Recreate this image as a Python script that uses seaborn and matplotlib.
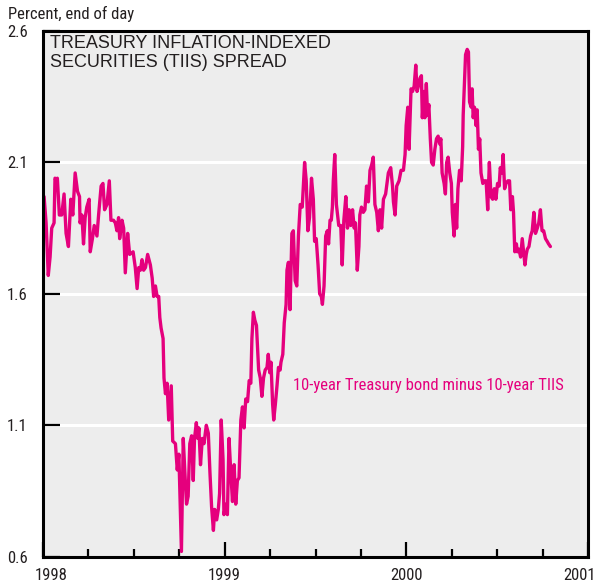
import matplotlib
matplotlib.use("Agg")
import matplotlib.pyplot as plt
from matplotlib import font_manager as fm
from matplotlib.ticker import FixedLocator
import matplotlib.transforms as mtransforms
import numpy as np
import pandas as pd
import seaborn as sns

# ---------------- data ----------------
years_1998 = [1998.006, 1998.017, 1998.029, 1998.039, 1998.048, 1998.061, 1998.066, 1998.076,
              1998.079, 1998.090, 1998.103, 1998.116, 1998.127, 1998.140, 1998.153, 1998.164,
              1998.177, 1998.190, 1998.201, 1998.204, 1998.214, 1998.223, 1998.232, 1998.241,
              1998.254, 1998.260, 1998.272, 1998.282, 1998.297, 1998.306, 1998.320, 1998.330,
              1998.339, 1998.352, 1998.365, 1998.374, 1998.388, 1998.398, 1998.407, 1998.416,
              1998.422, 1998.435, 1998.444, 1998.453, 1998.466, 1998.477, 1998.496, 1998.508,
              1998.518, 1998.527, 1998.536, 1998.545, 1998.554, 1998.564, 1998.576, 1998.591,
              1998.601, 1998.609, 1998.619, 1998.628, 1998.637, 1998.643, 1998.650, 1998.661,
              1998.666, 1998.674, 1998.683, 1998.692, 1998.706, 1998.714, 1998.729, 1998.739,
              1998.748, 1998.757, 1998.762, 1998.772, 1998.781, 1998.790, 1998.799, 1998.808,
              1998.818, 1998.827, 1998.834, 1998.844, 1998.852, 1998.858, 1998.867, 1998.877,
              1998.886, 1998.899, 1998.910, 1998.919, 1998.928, 1998.938, 1998.945, 1998.956,
              1998.965, 1998.972, 1998.981, 1998.991, 1998.996]
spread_1998 = [1.97, 1.87, 1.67, 1.74, 1.85, 1.87, 2.04, 2.03,
               2.04, 1.90, 1.90, 1.98, 1.83, 1.78, 1.96, 1.90,
               2.06, 1.99, 1.97, 1.87, 1.90, 1.79, 1.89, 1.93,
               1.96, 1.76, 1.81, 1.86, 1.82, 1.90, 2.01, 2.02,
               1.92, 1.94, 2.03, 1.88, 1.88, 1.87, 1.84, 1.89,
               1.81, 1.88, 1.85, 1.68, 1.83, 1.75, 1.76, 1.70,
               1.62, 1.70, 1.69, 1.73, 1.69, 1.70, 1.75, 1.71,
               1.66, 1.59, 1.63, 1.59, 1.59, 1.51, 1.47, 1.43,
               1.28, 1.22, 1.26, 1.12, 1.25, 1.04, 1.03, 0.93,
               0.99, 0.76, 0.62, 1.05, 0.92, 0.80, 0.83, 1.03,
               1.06, 0.89, 1.05, 1.11, 1.05, 1.09, 0.95, 1.05,
               1.03, 1.10, 1.07, 0.92, 0.79, 0.70, 0.78, 0.74,
               0.78, 0.84, 1.12, 0.97, 0.76]

years_1999 = [1999.007, 1999.015, 1999.024, 1999.033, 1999.043, 1999.052, 1999.061, 1999.070,
              1999.079, 1999.089, 1999.098, 1999.107, 1999.116, 1999.126, 1999.135, 1999.144,
              1999.150, 1999.158, 1999.166, 1999.175, 1999.187, 1999.196, 1999.205, 1999.214,
              1999.223, 1999.233, 1999.240, 1999.248, 1999.255, 1999.264, 1999.270, 1999.279,
              1999.288, 1999.296, 1999.305, 1999.310, 1999.320, 1999.325, 1999.328, 1999.338,
              1999.343, 1999.351, 1999.360, 1999.370, 1999.378, 1999.388, 1999.397, 1999.406,
              1999.416, 1999.427, 1999.440, 1999.449, 1999.458, 1999.467, 1999.478, 1999.488,
              1999.495, 1999.504, 1999.514, 1999.523, 1999.532, 1999.538, 1999.547, 1999.556,
              1999.565, 1999.572, 1999.580, 1999.587, 1999.593, 1999.598, 1999.606, 1999.615,
              1999.628, 1999.639, 1999.647, 1999.656, 1999.667, 1999.676, 1999.685, 1999.694,
              1999.704, 1999.713, 1999.720, 1999.730, 1999.739, 1999.744, 1999.753, 1999.763,
              1999.772, 1999.781, 1999.791, 1999.800, 1999.809, 1999.818, 1999.827, 1999.837,
              1999.846, 1999.855, 1999.864, 1999.874, 1999.886, 1999.901, 1999.914, 1999.924,
              1999.929, 1999.938, 1999.947, 1999.960, 1999.971, 1999.984, 1999.993, 1999.999]
spread_1999 = [0.80, 0.76, 1.05, 0.93, 0.81, 0.95, 0.80, 0.89,
               0.90, 1.12, 1.17, 1.09, 1.20, 1.19, 1.27, 1.26,
               1.43, 1.53, 1.50, 1.48, 1.31, 1.28, 1.21, 1.28,
               1.31, 1.32, 1.37, 1.30, 1.34, 1.18, 1.12, 1.18,
               1.25, 1.32, 1.31, 1.34, 1.37, 1.44, 1.49, 1.56,
               1.69, 1.72, 1.54, 1.83, 1.84, 1.65, 1.63, 1.82,
               1.94, 1.93, 2.10, 2.03, 1.84, 1.89, 2.04, 1.96,
               1.80, 1.81, 1.71, 1.60, 1.59, 1.56, 1.63, 1.82,
               1.84, 1.79, 1.88, 1.88, 1.93, 2.03, 2.13, 1.94,
               1.86, 1.86, 1.71, 1.88, 1.97, 1.85, 1.92, 1.86,
               1.92, 1.85, 1.87, 1.69, 1.78, 1.90, 1.93, 1.91,
               1.92, 2.01, 1.95, 2.07, 2.09, 2.12, 1.94, 1.91,
               1.84, 1.92, 1.85, 1.96, 1.98, 2.06, 2.08, 2.01,
               1.95, 1.90, 2.01, 2.03, 2.07, 2.07, 2.13, 2.24]

years_2000 = [2000.008, 2000.015, 2000.026, 2000.034, 2000.043, 2000.052, 2000.059, 2000.070,
              2000.075, 2000.083, 2000.088, 2000.097, 2000.102, 2000.110, 2000.117, 2000.124,
              2000.132, 2000.139, 2000.148, 2000.157, 2000.166, 2000.175, 2000.184, 2000.190,
              2000.197, 2000.208, 2000.215, 2000.222, 2000.230, 2000.239, 2000.248, 2000.253,
              2000.263, 2000.270, 2000.277, 2000.284, 2000.293, 2000.302, 2000.310, 2000.313,
              2000.320, 2000.326, 2000.335, 2000.342, 2000.348, 2000.357, 2000.362, 2000.368,
              2000.375, 2000.384, 2000.390, 2000.397, 2000.404, 2000.411, 2000.421, 2000.429,
              2000.439, 2000.448, 2000.457, 2000.466, 2000.475, 2000.484, 2000.493, 2000.502,
              2000.511, 2000.517, 2000.526, 2000.533, 2000.541, 2000.549, 2000.559, 2000.568,
              2000.575, 2000.584, 2000.590, 2000.597, 2000.606, 2000.611, 2000.620, 2000.629,
              2000.638, 2000.644, 2000.653, 2000.660, 2000.666, 2000.675, 2000.684, 2000.693,
              2000.702, 2000.711, 2000.721, 2000.729, 2000.738, 2000.747, 2000.756, 2000.766,
              2000.775, 2000.783, 2000.793]
spread_2000 = [2.31, 2.15, 2.38, 2.37, 2.39, 2.47, 2.37, 2.40,
               2.42, 2.43, 2.27, 2.37, 2.27, 2.40, 2.28, 2.32,
               2.19, 2.10, 2.09, 2.15, 2.19, 2.20, 2.17, 2.19,
               2.06, 2.02, 1.98, 2.10, 2.12, 2.06, 2.02, 1.91,
               1.82, 1.94, 1.85, 2.00, 2.07, 2.03, 2.16, 2.28,
               2.40, 2.51, 2.53, 2.52, 2.33, 2.31, 2.38, 2.27,
               2.31, 2.24, 2.30, 2.15, 2.19, 2.06, 2.02, 2.03,
               2.03, 1.92, 2.10, 1.97, 1.96, 2.00, 1.96, 2.02,
               2.01, 2.08, 2.06, 2.13, 2.00, 2.02, 2.03, 2.03,
               1.92, 1.97, 1.91, 1.76, 1.79, 1.76, 1.77, 1.74,
               1.81, 1.77, 1.71, 1.75, 1.77, 1.78, 1.82, 1.84,
               1.91, 1.83, 1.85, 1.87, 1.92, 1.84, 1.84, 1.81,
               1.80, 1.79, 1.78]

y_ticks = [0.6, 1.1, 1.6, 2.1, 2.6]
x_years = [1998, 1999, 2000, 2001]

title_text = "TREASURY INFLATION-INDEXED\nSECURITIES (TIIS) SPREAD"
unit_text = "Percent, end of day"
series_label = "10-year Treasury bond minus 10-year TIIS"

df = pd.DataFrame({
    "year": years_1998 + years_1999 + years_2000,
    "spread": spread_1998 + spread_1999 + spread_2000,
})

# ---------------- styling ----------------
sns.set_theme(style="white")
names = {f.name for f in fm.fontManager.ttflist}
narrow = None
for cand in ["Liberation Sans Narrow", "Roboto Condensed", "Open Sans Condensed",
             "Noto Sans Condensed", "Arial Narrow"]:
    if cand in names:
        narrow = cand
        break
narrow_kw = {"family": [narrow, "DejaVu Sans"]} if narrow else {"family": ["DejaVu Sans"], "stretch": "condensed"}
wide_family = ["Liberation Sans", "DejaVu Sans"]
plt.rcParams["font.family"] = wide_family

PINK = "#E5007D"
BG = "#EDEDED"
TXT = "#231F20"
NFS = 12

fig = plt.figure(figsize=(5.97, 5.86), dpi=100)
ax = fig.add_axes([43 / 597, (586 - 556.7) / 586, 545 / 597, 525.7 / 586])
ax.set_facecolor(BG)

sns.lineplot(data=df, x="year", y="spread", ax=ax, color=PINK, linewidth=2.4,
             estimator=None, sort=False, legend=False)

ax.set_xlim(x_years[0], x_years[-1])
ax.set_ylim(y_ticks[0], y_ticks[-1])
ax.set_xlabel("")
ax.set_ylabel("")

ax.set_yticks(y_ticks)
ax.set_yticklabels([f"{v:.1f}" for v in y_ticks], color=TXT, fontsize=NFS, **narrow_kw)
ax.yaxis.grid(True, color="white", linewidth=2.2)
ax.xaxis.grid(False)
ax.set_axisbelow(True)

ax.set_xticks(x_years)
ax.set_xticklabels([str(y) for y in x_years], color=TXT, fontsize=NFS, **narrow_kw)
quarters = [y + q for y in x_years[:-1] for q in (0.25, 0.5, 0.75)]
ax.xaxis.set_minor_locator(FixedLocator(quarters))

ax.tick_params(axis="y", which="major", direction="in", length=12, width=1.6,
               color="black", pad=11, left=True)
ax.tick_params(axis="x", which="major", direction="in", length=11, width=1.6,
               color="black", pad=8, bottom=True)
ax.tick_params(axis="x", which="minor", direction="in", length=6, width=1.6,
               color="black", bottom=True)

for s in ax.spines.values():
    s.set_visible(True)
    s.set_color("black")
    s.set_linewidth(2.2)

# nudge the end year labels inward, as in the reference
xlabels = ax.get_xticklabels()
xlabels[0].set_transform(xlabels[0].get_transform() +
                         mtransforms.ScaledTranslation(8 / 100, 0, fig.dpi_scale_trans))
xlabels[-1].set_transform(xlabels[-1].get_transform() +
                          mtransforms.ScaledTranslation(-8 / 100, 0, fig.dpi_scale_trans))

# texts
ax.text(0.013, 0.993, title_text, transform=ax.transAxes, ha="left", va="top",
        fontsize=13, color=TXT, linespacing=1.15, family=wide_family)
ax.text(0.459, 0.325, series_label, transform=ax.transAxes, ha="left", va="center",
        fontsize=NFS, color=PINK, **narrow_kw)
fig.text(8 / 597, 1 - 14 / 586, unit_text, ha="left", va="center",
         fontsize=NFS, color=TXT, **narrow_kw)

fig.savefig("out.png", dpi=100, facecolor="white")
